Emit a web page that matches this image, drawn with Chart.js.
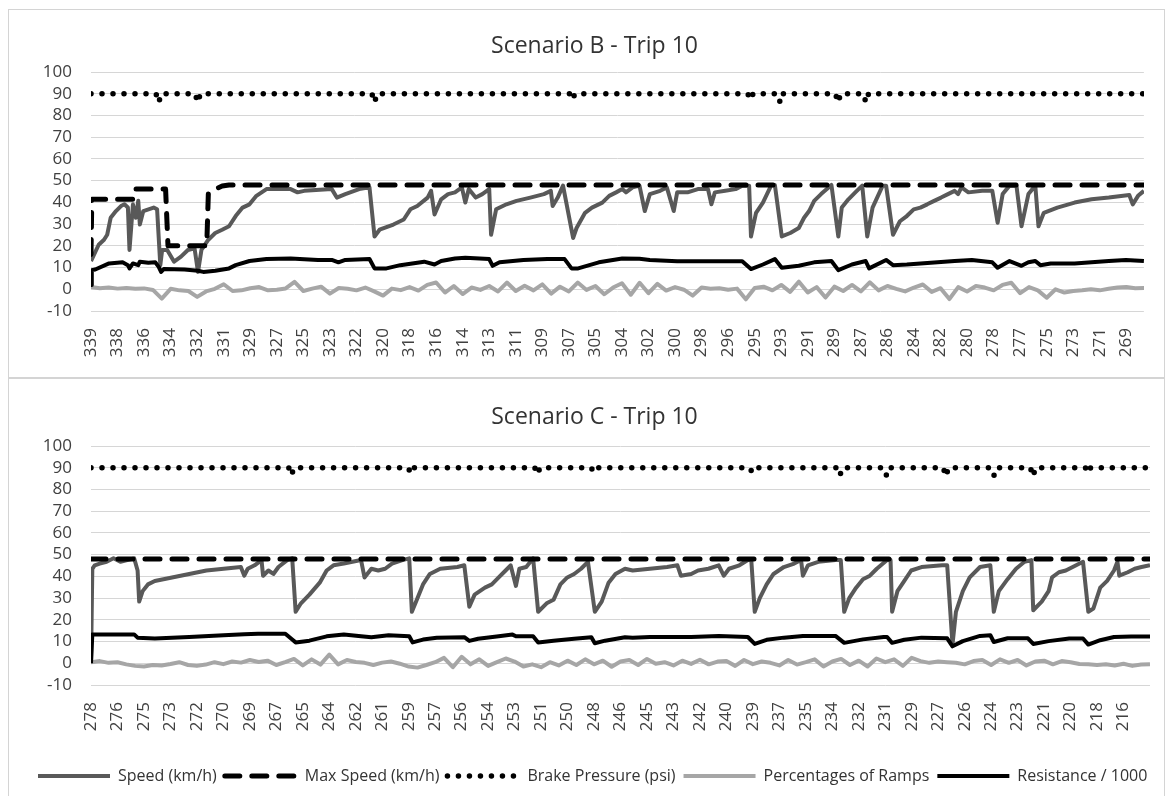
<!DOCTYPE html>
<html>
<head>
<meta charset="utf-8">
<script src="https://cdn.jsdelivr.net/npm/chart.js@4.4.1/dist/chart.umd.min.js"></script>
<style>
  html, body { margin: 0; padding: 0; background: #fff; }
  body { width: 1173px; height: 796px; position: relative; overflow: hidden; }
  .frame { position: absolute; left: 8px; width: 1155px; border: 1px solid #d4d4d4; }
  #frameB { top: 9px; height: 367px; }
  #frameC { top: 378px; height: 417px; }
  canvas { display: block; }
</style>
</head>
<body>
<div class="frame" id="frameB"><canvas id="chartB" width="1155" height="367"></canvas></div>
<div class="frame" id="frameC"><canvas id="chartC" width="1155" height="417"></canvas></div>
<script>
// x positions are measured in label slots (0 = first tick label)
const seriesNames = ["Speed (km/h)", "Max Speed (km/h)", "Brake Pressure (psi)", "Percentages of Ramps", "Resistance / 1000"];

// ---------- Scenario B ----------
const ticksB = [339, 338, 336, 334, 332, 331, 329, 327, 325, 323, 322, 320, 318, 316, 314, 313, 311, 309, 307, 305,
  304, 302, 300, 298, 296, 295, 293, 291, 289, 287, 286, 284, 282, 280, 278, 277, 275, 273, 271, 269];
const xMaxB = 39.66;

const speedB = [
  [0, 13], [0.29, 20.5], [0.49, 22.8], [0.61, 25.1], [0.74, 32.9], [0.94, 36.0], [1.13, 38.3], [1.26, 39.1],
  [1.39, 37.6], [1.45, 18.1], [1.58, 39.1], [1.69, 32.9], [1.78, 40.7], [1.84, 29.8], [1.97, 36.0], [2.36, 37.6],
  [2.49, 36.8], [2.61, 11.1], [2.68, 18.1], [2.87, 18.1], [3.13, 12.7], [3.39, 15.0], [3.65, 18.1], [3.90, 18.9],
  [4.03, 8.0], [4.16, 18.1], [4.42, 22.8], [4.68, 25.9], [4.94, 27.4], [5.20, 29.0], [5.45, 33.7], [5.71, 37.6],
  [5.97, 39.1], [6.23, 43.0], [6.61, 46.1], [7.52, 46.1], [7.78, 44.6], [8.03, 45.3], [9.07, 46.1], [9.26, 42.2],
  [9.58, 43.8], [10.10, 46.1], [10.49, 46.9], [10.68, 24.3], [10.87, 27.4], [11.39, 29.8], [11.78, 32.1], [12.03, 36.8],
  [12.29, 38.3], [12.68, 42.2], [12.81, 45.3], [12.94, 34.4], [13.19, 41.4], [13.45, 43.8], [13.71, 44.6], [13.97, 46.9],
  [14.10, 39.9], [14.23, 46.1], [14.49, 42.2], [14.74, 43.8], [15.00, 46.1], [15.07, 25.1], [15.26, 36.8], [15.65, 39.1],
  [16.03, 40.7], [16.55, 42.2], [17.06, 43.8], [17.32, 45.3], [17.39, 38.3], [17.58, 42.2], [17.78, 47.7], [18.16, 23.6],
  [18.29, 28.2], [18.61, 35.2], [18.87, 37.6], [19.26, 39.9], [19.52, 43.0], [19.78, 44.6], [20.01, 46.1], [20.15, 44.6],
  [20.40, 46.9], [20.66, 47.7], [20.86, 36.0], [21.05, 43.8], [21.44, 45.3], [21.69, 46.9], [21.95, 36.0], [22.08, 44.6],
  [22.47, 44.6], [22.86, 46.1], [23.24, 46.1], [23.37, 39.1], [23.50, 44.6], [23.89, 45.3], [24.28, 46.1], [24.53, 47.7],
  [24.79, 47.7], [24.86, 24.3], [25.05, 35.2], [25.31, 39.9], [25.63, 48.0], [25.76, 48.0], [26.02, 24.3], [26.34, 25.9],
  [26.66, 28.2], [26.86, 32.9], [27.05, 36.0], [27.24, 40.7], [27.50, 43.8], [27.89, 48.0], [28.15, 24.3], [28.28, 37.6],
  [28.53, 41.4], [28.79, 44.6], [29.05, 47.7], [29.24, 24.3], [29.44, 37.6], [29.82, 47.7], [29.95, 47.7], [30.21, 25.1],
  [30.47, 31.3], [30.73, 33.7], [30.99, 36.8], [31.24, 37.6], [31.50, 39.1], [31.76, 40.7], [32.02, 42.2], [32.28, 43.8],
  [32.53, 45.3], [32.66, 43.8], [32.79, 46.9], [33.05, 44.6], [33.57, 45.3], [33.95, 45.3], [34.15, 30.6], [34.34, 43.8],
  [34.60, 47.7], [34.86, 47.7], [35.05, 29.0], [35.31, 43.8], [35.57, 47.7], [35.69, 29.0], [35.89, 35.2], [36.40, 37.6],
  [37.05, 39.9], [37.69, 41.4], [38.34, 42.2], [39.11, 43.4], [39.24, 39.1], [39.44, 43.0], [39.66, 45.3]
];

const maxSpeedB = [
  [0, 16], [0.03, 41.4], [1.58, 41.4], [1.65, 46.1], [2.81, 46.1], [2.90, 20.0], [4.36, 20.0], [4.42, 44.0],
  [4.68, 46.1], [4.94, 47.5], [5.20, 48.0], [39.66, 48.0]
];

const brakeB = [
  [0, 90], [2.45, 90], [2.55, 86], [2.65, 90], [3.92, 90], [4.02, 86], [4.12, 90], [10.58, 90], [10.68, 86],
  [10.78, 90], [18.03, 90], [18.13, 87.3], [18.23, 90], [24.74, 90], [24.84, 87.3], [24.94, 90], [25.86, 90],
  [25.96, 86], [26.06, 90], [28.04, 90], [28.14, 86], [28.24, 90], [29.09, 90], [29.19, 86], [29.29, 90], [39.66, 90]
];

// ramps sampled every third of a label slot
const rampsB = [
  1.0, 0.5, 0.8, 0.3, 0.6, 0.2, 0.4, -0.3, -4.3, 0.2, -0.5, -0.8, -3.5, -1.0, 0.2, 2.3, -0.8, -0.5,
  0.5, 1.0, -0.5, -0.2, 0.4, 3.4, -0.8, 0.3, 1.2, -2.0, 0.6, 0.2, -0.5, 0.8, -1.0, -2.9, 0.3, -0.4,
  1.0, -0.6, 2.0, 3.1, -1.5, 1.5, -2.2, 0.8, -0.3, 1.5, -1.0, 3.1, -0.8, 1.6, -0.5, 2.3, -2.0, 1.2,
  -1.0, 3.1, -0.3, 1.5, -2.3, 0.8, 2.8, -2.5, 3.0, -1.8, 2.5, -0.6, 1.0, -0.2, -2.9, 0.8, 0.2, 0.5,
  -0.2, 0.3, -4.6, 0.6, 1.2, -0.5, 2.0, -1.2, 3.5, -1.5, 1.0, -3.8, 1.2, -0.8, 2.0, -1.0, 3.2, -0.5,
  1.5, 0.2, -1.0, 0.8, 2.2, -1.2, 0.5, -4.5, 1.0, -1.0, 1.5, 0.8, -0.5, 2.0, 3.0, -1.8, 1.0, -0.5,
  -3.9, 0.0, -1.5, -0.8, -0.5, 0.0, -0.5, 0.2, 0.8, 1.0, 0.5, 0.6
];

const resistanceB = [
  [0, 2], [0.03, 8.8], [0.16, 9.1], [0.68, 11.9], [1.19, 12.4], [1.39, 11.1], [1.45, 9.6], [1.58, 11.9],
  [1.78, 11.1], [1.84, 12.7], [2.16, 12.2], [2.42, 12.4], [2.55, 10.3], [2.64, 8.0], [2.74, 9.3], [3.52, 9.1],
  [4.03, 8.5], [4.23, 8.0], [4.68, 8.5], [5.20, 9.6], [5.45, 11.1], [5.97, 13.0], [6.61, 13.9], [7.52, 14.2],
  [8.55, 13.5], [9.07, 13.5], [9.32, 12.4], [9.58, 13.5], [10.49, 13.9], [10.68, 9.6], [11.13, 9.6], [11.65, 11.1],
  [12.55, 12.7], [12.94, 11.4], [13.19, 13.0], [13.71, 14.2], [14.10, 14.5], [15.00, 13.9], [15.13, 10.8], [15.39, 12.4],
  [16.29, 13.5], [17.19, 13.9], [17.84, 13.9], [18.10, 9.6], [18.35, 9.6], [19.13, 12.4], [20.01, 14.2], [20.66, 14.0],
  [21.05, 13.5], [22.08, 12.9], [23.50, 12.9], [24.53, 12.9], [24.86, 9.3], [25.31, 11.4], [25.76, 13.9], [26.02, 9.9],
  [26.66, 10.8], [27.24, 12.4], [27.89, 13.0], [28.15, 8.8], [28.66, 11.4], [29.18, 13.0], [29.31, 9.6], [29.95, 13.5],
  [30.21, 11.1], [30.73, 11.4], [31.89, 12.4], [32.53, 13.0], [33.18, 13.5], [33.95, 12.4], [34.15, 9.9], [34.60, 13.0],
  [35.05, 10.8], [35.31, 12.4], [35.57, 13.0], [35.76, 11.1], [36.15, 11.9], [37.05, 11.9], [37.69, 12.4], [38.34, 13.0],
  [38.98, 13.5], [39.66, 13.0]
];

// ---------- Scenario C ----------
const ticksC = [278, 276, 275, 273, 272, 270, 269, 267, 265, 264, 262, 261, 259, 257, 256, 254, 253, 251, 250, 248,
  246, 245, 243, 242, 240, 239, 237, 235, 234, 232, 231, 229, 227, 226, 224, 223, 221, 220, 218, 216];
const xMaxC = 40.0;

const speedC = [
  [0, 0], [0.05, 43.5], [0.14, 45.1], [0.33, 45.9], [0.59, 46.7], [0.85, 48.3], [1.11, 46.7], [1.37, 47.5],
  [1.63, 48.3], [1.76, 42.7], [1.82, 28.4], [1.95, 33.2], [2.15, 36.3], [2.41, 37.9], [3.06, 39.5], [3.71, 41.1],
  [4.36, 42.7], [5.01, 43.5], [5.66, 44.3], [5.79, 40.3], [5.92, 43.5], [6.18, 45.1], [6.44, 47.5], [6.50, 40.3],
  [6.70, 42.7], [6.89, 41.1], [7.08, 44.3], [7.41, 47.5], [7.60, 48.3], [7.73, 23.7], [7.93, 27.6], [8.25, 31.6],
  [8.64, 37.1], [8.90, 42.7], [9.16, 45.1], [9.55, 45.9], [10.20, 47.5], [10.33, 39.5], [10.59, 43.5], [10.85, 42.7],
  [11.11, 43.5], [11.37, 45.9], [11.76, 47.5], [12.02, 48.3], [12.12, 23.7], [12.28, 28.4], [12.54, 36.3], [12.80, 41.1],
  [13.19, 43.5], [13.84, 44.3], [14.10, 45.1], [14.29, 26.0], [14.49, 31.6], [14.88, 34.8], [15.14, 36.3], [15.40, 39.5],
  [15.66, 42.7], [15.85, 45.1], [16.05, 35.6], [16.18, 43.5], [16.44, 44.3], [16.70, 48.3], [16.89, 23.7], [17.21, 27.6],
  [17.47, 29.2], [17.73, 36.3], [17.99, 39.5], [18.25, 41.1], [18.51, 43.5], [18.77, 46.7], [19.03, 23.7], [19.29, 28.4],
  [19.55, 37.1], [19.81, 41.1], [20.17, 43.5], [20.46, 42.7], [21.11, 43.5], [21.76, 44.3], [22.15, 45.1], [22.28, 40.3],
  [22.67, 41.1], [22.93, 42.7], [23.32, 43.5], [23.71, 45.1], [23.90, 40.3], [24.10, 43.5], [24.49, 45.1], [24.81, 47.5],
  [24.94, 47.5], [25.07, 23.7], [25.26, 30.0], [25.52, 36.3], [25.78, 41.1], [26.17, 44.3], [26.56, 45.9], [26.82, 47.5],
  [26.89, 40.3], [27.08, 45.1], [27.47, 46.7], [28.12, 47.5], [28.32, 47.5], [28.45, 23.7], [28.64, 30.0], [28.90, 34.8],
  [29.16, 38.7], [29.42, 40.3], [29.68, 43.5], [30.07, 47.5], [30.20, 47.5], [30.26, 23.7], [30.46, 33.2], [30.72, 37.9],
  [30.98, 42.7], [31.37, 44.3], [32.15, 45.1], [32.34, 45.1], [32.54, 8.6], [32.67, 23.7], [32.93, 33.2], [33.19, 39.5],
  [33.58, 44.3], [33.97, 45.1], [34.10, 23.7], [34.29, 33.2], [34.62, 38.7], [34.94, 43.5], [35.26, 46.7], [35.52, 47.5],
  [35.59, 24.4], [35.91, 28.4], [36.17, 33.2], [36.30, 39.5], [36.56, 41.9], [36.82, 42.7], [37.08, 44.3], [37.47, 46.7],
  [37.67, 23.7], [37.86, 25.2], [38.12, 34.8], [38.38, 37.9], [38.64, 42.7], [38.77, 46.7], [38.84, 40.3], [39.16, 41.9],
  [39.42, 43.5], [39.68, 44.3], [40.0, 45.1]
];

const maxSpeedC = [[0, 48], [40.0, 48]];

const brakeC = [
  [0, 90], [7.47, 90], [7.57, 86.6], [7.67, 90], [11.98, 90], [12.08, 87.4], [12.18, 90], [16.76, 90], [16.86, 87],
  [16.96, 90], [18.89, 90], [18.99, 88], [19.09, 90], [24.87, 90], [24.97, 88], [25.07, 90], [28.19, 90], [28.29, 86.6],
  [28.39, 90], [29.95, 90], [30.05, 86.4], [30.15, 90], [32.19, 90], [32.29, 86], [32.39, 90], [34.01, 90], [34.11, 86.5],
  [34.21, 90], [35.48, 90], [35.58, 86], [35.68, 90], [37.56, 90], [37.66, 87.6], [37.76, 90], [40.0, 90]
];

const rampsC = [
  0.5, 1.0, 0.2, 0.5, -0.5, -1.2, -1.5, -0.8, -1.0, -0.3, 0.5, -0.8, -1.2, -0.6, 0.5, -0.4, 0.8, 0.3,
  1.5, 0.6, 1.2, -0.8, 0.5, 2.0, -1.0, 1.8, -0.6, 4.0, -0.5, 1.5, 0.6, 0.2, -0.8, 0.3, 0.8, -0.2,
  -1.5, -2.0, -0.8, 0.5, 2.5, -1.8, 3.0, -0.5, 1.8, -1.2, 0.5, 2.2, 0.8, -1.5, -0.5, -1.8, 0.5, -1.0,
  1.2, -0.8, 1.8, -0.5, 1.2, -1.6, 0.8, 1.5, -0.8, 2.0, -0.2, 0.5, -1.0, 1.2, -0.3, 1.6, -0.5, 0.8,
  1.0, -1.2, 1.5, -0.4, 0.8, 0.2, -1.0, 1.5, -0.6, 0.5, 1.8, -1.5, 0.8, 2.0, -0.8, 1.2, -1.5, 2.2,
  0.5, 1.8, -1.2, 2.5, 1.0, 0.2, 0.8, 0.5, 0.2, -0.5, 1.0, 1.5, -0.8, 1.8, 0.2, 1.5, -1.0, 0.8,
  1.2, -0.5, 1.0, 0.5, -0.3, -0.5, -0.8, -0.5, -1.0, -0.2, -1.2, -0.6, -0.4
];

const resistanceC = [
  [0, 0], [0.05, 13.3], [1.63, 13.3], [1.76, 11.8], [2.41, 11.4], [3.71, 12.1], [5.01, 12.9], [5.79, 13.4],
  [6.31, 13.6], [7.34, 13.6], [7.60, 10.9], [7.73, 9.6], [8.25, 10.4], [8.90, 12.4], [9.55, 13.2], [10.20, 12.4],
  [10.59, 12.0], [11.24, 12.9], [12.02, 12.4], [12.15, 9.6], [12.54, 10.9], [13.06, 11.7], [14.10, 12.0], [14.29, 10.3],
  [14.62, 11.3], [15.40, 12.4], [15.92, 13.2], [16.05, 12.4], [16.70, 12.4], [16.89, 9.6], [17.47, 10.4], [18.25, 11.3],
  [18.90, 12.0], [19.03, 9.2], [19.42, 10.4], [20.17, 12.0], [20.46, 11.8], [21.11, 12.1], [22.67, 12.1], [23.71, 12.5],
  [24.81, 12.1], [25.07, 8.9], [25.52, 10.8], [26.17, 11.8], [26.89, 12.6], [28.12, 12.6], [28.45, 9.4], [29.16, 11.0],
  [29.94, 12.1], [30.07, 12.1], [30.26, 9.4], [30.72, 10.8], [31.37, 11.8], [32.34, 11.5], [32.54, 7.8], [32.93, 10.2],
  [33.58, 12.6], [33.97, 12.9], [34.10, 9.8], [34.62, 11.5], [35.39, 11.5], [35.59, 8.9], [36.17, 10.2], [36.95, 11.4],
  [37.47, 11.4], [37.67, 8.6], [38.12, 10.6], [38.64, 12.1], [39.29, 12.3], [40.0, 12.3]
];

const rampStep = 1 / 3;

Chart.defaults.font.family = "'Open Sans', sans-serif";
Chart.defaults.color = "#404040";

// nudges the title / legend boxes after layout (Excel centres them on the whole frame)
const shiftBoxes = {
  id: "shiftBoxes",
  afterLayout(chart, args, opts) {
    if (chart.titleBlock && opts.title) chart.titleBlock.left += opts.title;
    if (chart.legend && opts.legendLeft !== undefined) {
      chart.legend.left = opts.legendLeft;
      chart.legend.right = chart.width + 100;
    }
  }
};

function buildDatasets(speed, maxSpeed, brake, ramps, resistance) {
  const rampPts = ramps.map((v, i) => [i * rampStep, v]);
  return [
    { label: seriesNames[0], data: speed, borderColor: "#595959", borderWidth: 4, order: 5 },
    { label: seriesNames[1], data: maxSpeed, borderColor: "#000", borderWidth: 5, borderDash: [15, 12], borderCapStyle: "round", order: 4 },
    { label: seriesNames[2], data: brake, borderColor: "#000", borderWidth: 5.5, borderDash: [0, 11], borderCapStyle: "round", order: 3 },
    { label: seriesNames[3], data: rampPts, borderColor: "#a6a6a6", borderWidth: 4, order: 2 },
    { label: seriesNames[4], data: resistance, borderColor: "#000", borderWidth: 4, order: 1 }
  ].map(d => Object.assign({ pointRadius: 0, fill: false, tension: 0, borderJoinStyle: "round", backgroundColor: d.borderColor }, d));
}

function legendLabels(chart) {
  return Chart.defaults.plugins.legend.labels.generateLabels(chart).map(item => {
    const ds = chart.data.datasets[item.datasetIndex];
    return Object.assign(item, {
      lineDash: ds.borderDash || [],
      lineCap: ds.borderCapStyle || "butt",
      lineWidth: ds.borderWidth,
      strokeStyle: ds.borderColor,
      fillStyle: ds.borderColor
    });
  });
}

function buildChart(id, title, ticks, xMax, datasets, cfg) {
  return new Chart(document.getElementById(id), {
    type: "line",
    data: { datasets },
    plugins: [shiftBoxes],
    options: {
      responsive: false,
      animation: false,
      layout: { padding: { left: 0, right: 14, top: 0, bottom: cfg.padBottom } },
      plugins: {
        shiftBoxes: { title: 30, legendLeft: 21 },
        title: {
          display: true, text: title, color: "#333",
          font: { size: 23, weight: "normal" },
          padding: { top: cfg.titleTop, bottom: cfg.titleBottom }
        },
        tooltip: { enabled: false },
        legend: {
          display: cfg.legend,
          position: "bottom",
          align: "start",
          labels: {
            usePointStyle: true, pointStyle: "line", pointStyleWidth: 72,
            font: { size: 16 }, color: "#333", padding: 8,
            generateLabels: legendLabels,
            sort: (a, b) => a.datasetIndex - b.datasetIndex
          }
        }
      },
      scales: {
        x: {
          type: "linear", min: 0, max: xMax,
          grid: { display: false, drawTicks: false },
          border: { display: false },
          afterBuildTicks: s => { s.ticks = ticks.map((_, i) => ({ value: i })); },
          afterFit: s => { s.height = cfg.xHeight; },
          ticks: {
            autoSkip: false, minRotation: 90, maxRotation: 90, padding: 17,
            font: { size: 17 }, color: "#404040",
            callback: v => ticks[v]
          }
        },
        y: {
          min: -10, max: 100,
          grid: { color: "#d6d6d6", drawTicks: false },
          border: { display: false },
          afterFit: s => { s.width = 82; },
          ticks: { stepSize: 10, autoSkip: false, padding: 19, font: { size: 17 }, color: "#404040" }
        }
      }
    }
  });
}

const chartB = buildChart("chartB", "Scenario B - Trip 10", ticksB, xMaxB,
  buildDatasets(speedB, maxSpeedB, brakeB, rampsB, resistanceB),
  { padBottom: 0, titleTop: 22.5, titleBottom: 11.9, xHeight: 66, legend: false });

const chartC = buildChart("chartC", "Scenario C - Trip 10", ticksC, xMaxC,
  buildDatasets(speedC, maxSpeedC, brakeC, rampsC, resistanceC),
  { padBottom: 2, titleTop: 24.2, titleBottom: 15.2, xHeight: 75, legend: true });
</script>
</body>
</html>
